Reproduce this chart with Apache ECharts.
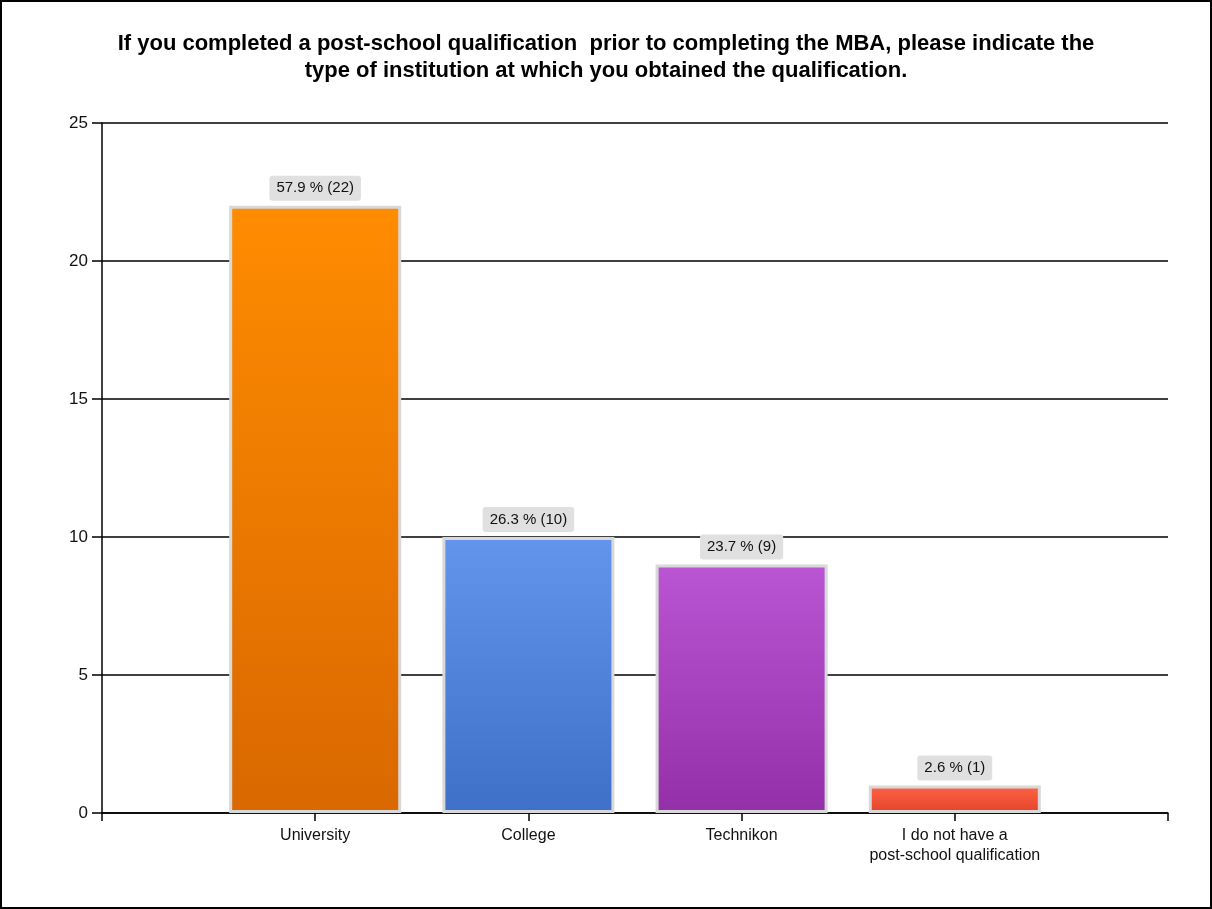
<!DOCTYPE html>
<html>
<head>
<meta charset="utf-8">
<script src="https://cdn.jsdelivr.net/npm/echarts@6/dist/echarts.min.js"></script>
<style>
html,body{margin:0;padding:0;background:#fff;}
#wrap{position:absolute;left:0;top:0;width:1208px;height:905px;border:2px solid #000;}
#chart{width:1208px;height:905px;}
</style>
</head>
<body>
<div id="wrap"><div id="chart"></div></div>
<script>
var titleText = 'If you completed a post-school qualification  prior to completing the MBA, please indicate the\ntype of institution at which you obtained the qualification.';
var categories = ['', 'University', 'College', 'Technikon', 'I do not have a\npost-school qualification', ''];
var counts = [null, 22, 10, 9, 1, null];
var percents = [null, 57.9, 26.3, 23.7, 2.6, null];
var yTicks = [0, 5, 10, 15, 20, 25];
var topColors = [null, '#FF8C00', '#6495ED', '#BA55D3', '#FF6347', null];
var bottomColors = [null, '#D96800', '#3E70C8', '#9330A8', '#E2442A', null];

var chart = echarts.init(document.getElementById('chart'), null, {renderer: 'canvas'});
var data = counts.map(function (v, i) {
  if (v === null) return {value: null};
  return {
    value: v,
    itemStyle: {
      color: new echarts.graphic.LinearGradient(0, 0, 0, 1, [
        {offset: 0, color: topColors[i]},
        {offset: 1, color: bottomColors[i]}
      ])
    },
    label: {formatter: percents[i] + ' % (' + v + ')'}
  };
});

chart.setOption({
  animation: false,
  title: {
    text: titleText,
    left: 'center',
    top: 23,
    textStyle: {fontFamily: 'Liberation Sans, Arial', fontWeight: 'bold', fontSize: 22, color: '#000', lineHeight: 27}
  },
  grid: {left: 100, right: 42, top: 121, bottom: 94, containLabel: false},
  xAxis: {
    type: 'category',
    data: categories,
    boundaryGap: false,
    axisLine: {lineStyle: {color: '#000', width: 1.5}},
    axisTick: {show: true, length: 8, lineStyle: {color: '#000', width: 1.5}},
    axisLabel: {
      show: true, interval: 0, margin: 13, color: '#111',
      fontFamily: 'Liberation Sans, Arial', fontSize: 16, lineHeight: 20
    },
    splitLine: {show: false}
  },
  yAxis: {
    type: 'value',
    min: yTicks[0],
    max: yTicks[yTicks.length - 1],
    interval: 5,
    axisLine: {show: true, lineStyle: {color: '#000', width: 1.5}},
    axisTick: {show: true, length: 10, lineStyle: {color: '#000', width: 1.5}},
    axisLabel: {margin: 14, color: '#111', fontFamily: 'Liberation Sans, Arial', fontSize: 17},
    splitLine: {show: true, lineStyle: {color: '#000', width: 1.5}}
  },
  series: [{
    type: 'bar',
    data: data,
    barWidth: 172,
    itemStyle: {borderColor: '#d8d8d8', borderWidth: 3},
    label: {
      show: true,
      position: 'top',
      distance: 5,
      color: '#111',
      fontFamily: 'Liberation Sans, Arial',
      fontSize: 15,
      backgroundColor: '#e0e0e0',
      borderRadius: 3,
      padding: [5, 7, 5, 7]
    }
  }]
});
</script>
</body>
</html>
